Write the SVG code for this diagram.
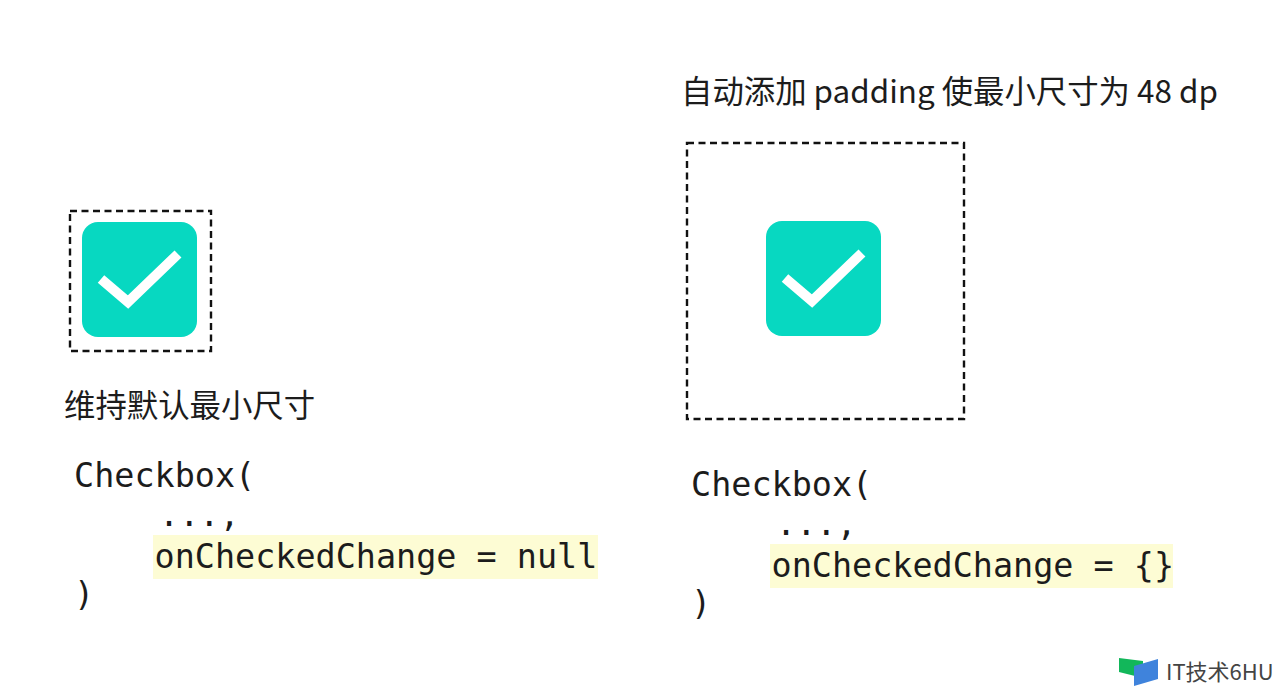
<svg xmlns="http://www.w3.org/2000/svg" width="1280" height="690" viewBox="0 0 1280 690">
<style>
.cn{font-family:"Noto Sans CJK SC","Noto Sans",sans-serif;font-size:31.4px;fill:#1c1c1c}
.code{font-family:"DejaVu Sans Mono","Liberation Mono",monospace;font-size:33.45px;fill:#1c1c1c}
.dash{fill:none;stroke:#111;stroke-width:2.4;stroke-dasharray:7 4.5}
.hl{fill:#fdfcd4}
.box{fill:#07d8c1}
.tick{fill:none;stroke:#fff;stroke-width:10}
</style>
<rect width="1280" height="690" fill="#fff"/>
<g id="left-checkbox">
<rect class="dash" x="70" y="211" width="141" height="140"/>
<rect class="box" x="82" y="222" width="115" height="115" rx="16"/>
<path class="tick" d="M101 279L128 302L178 254"/>
</g>
<g id="right-checkbox">
<rect class="dash" x="687" y="143" width="277" height="276"/>
<rect class="box" x="766" y="221" width="115" height="115" rx="16"/>
<path class="tick" d="M785 278L812 301L862 253"/>
</g>
<g id="left-caption"><text class="cn" x="64" y="417">维持默认最小尺寸</text></g>
<g id="right-caption"><text class="cn" x="681" y="103">自动添加 padding 使最小尺寸为 48 dp</text></g>
<g id="left-code">
<rect class="hl" x="153" y="535" width="445" height="44"/>
<text class="code" x="74" y="487">Checkbox(</text>
<text class="code" x="159" y="526">...,</text>
<text class="code" x="154.5" y="568">onCheckedChange = null</text>
<text class="code" x="74" y="606">)</text>
</g>
<g id="right-code">
<rect class="hl" x="770" y="544" width="403" height="44"/>
<text class="code" x="691" y="496">Checkbox(</text>
<text class="code" x="776" y="535">...,</text>
<text class="code" x="771.5" y="577">onCheckedChange = {}</text>
<text class="code" x="691" y="615">)</text>
</g>
<g id="watermark">
<path d="M1119 658L1143 661V678L1119 672Z" fill="#12b75a"/>
<path d="M1134 666L1158 659V679L1134 686Z" fill="#3f83dc"/>
<text x="1166" y="680" font-family="Noto Sans CJK SC,sans-serif" font-size="22" fill="#444">IT技术6HU</text>
</g>
</svg>
